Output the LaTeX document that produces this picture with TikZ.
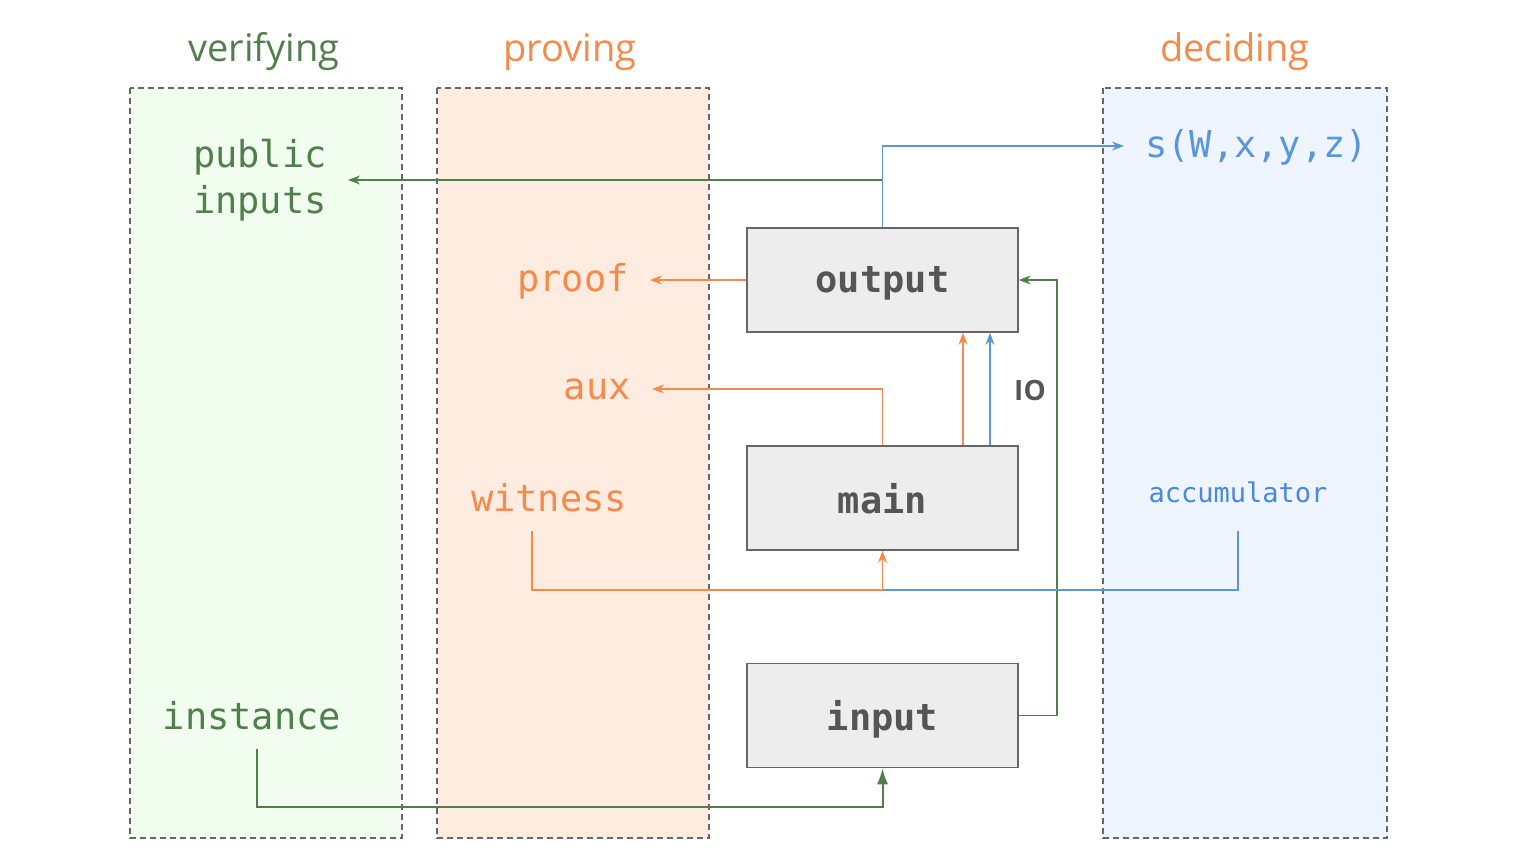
\documentclass[tikz,border=0pt]{standalone}
\usepackage{fontspec}
\setmainfont{Open Sans}
\newfontfamily\codefont{DejaVu Sans Mono}
\usetikzlibrary{arrows.meta}

\definecolor{vgreen}{HTML}{517F4C}
\definecolor{porange}{HTML}{F58A4B}
\definecolor{dblue}{HTML}{5A96D8}
\definecolor{ablue}{HTML}{4A87E0}
\definecolor{vfill}{HTML}{F0FDEF}
\definecolor{pfill}{HTML}{FEECE0}
\definecolor{dfill}{HTML}{EEF5FE}
\definecolor{boxgray}{HTML}{666666}
\definecolor{txtgray}{HTML}{555555}

\begin{document}
\begin{tikzpicture}[x=1pt, y=-1pt,
    region/.style = {draw=boxgray, line width=1.5pt, dash pattern=on 6pt off 4pt},
    heading/.style = {font=\fontsize{38}{44}\selectfont},
    block/.style = {draw=boxgray, fill=black!7, line width=1.5pt, minimum width=271pt,
                    minimum height=104pt, inner sep=0pt, text=txtgray, text depth=0pt,
                    font=\codefont\bfseries\fontsize{37}{44}\selectfont},
    label/.style = {font=\codefont\fontsize{37}{46}\selectfont, inner xsep=21pt, inner ysep=18pt},
    link/.style = {line width=1.5pt, -{Stealth[length=12pt, width=9pt]}}]
    \useasboundingbox (0,0) rectangle (1518,855);

    % regions
    \draw[region, fill=vfill] (130,88) rectangle (402,838);
    \draw[region, fill=pfill] (437,88) rectangle (709,838);
    \draw[region, fill=dfill] (1103,88) rectangle (1387,838);
    \node[heading, text=vgreen] (verifying) at (264,52) {verifying};
    \node[heading, text=porange] (proving) at (570,52) {proving};
    \node[heading, text=porange] (deciding) at (1235,52) {deciding};

    % circuit blocks
    \node[block] (output) at (882.5,280) {output};
    \node[block] (main) at (882.5,498) {main};
    \node[block] (input) at (882.5,715.5) {input};

    % labels
    \node[label, text=vgreen, align=left] (public) at (260,180) {public\\inputs};
    \node[label, text=vgreen] (instance) at (252,716) {instance};
    \node[label, text=porange, anchor=east] (proof) at (650,281) {proof};
    \node[label, text=porange, anchor=east] (aux) at (652,389) {aux};
    \node[label, text=porange] (witness) at (549,498) {witness};
    \node[label, text=dblue, anchor=west] (sfun) at (1124,147) {s(W,x,y,z)};
    \node[label, text=ablue, font=\codefont\fontsize{27}{32}\selectfont, inner ysep=28pt] (accumulator) at (1238,492) {accumulator};
    \node[text=txtgray, font=\bfseries\fontsize{28}{32}\selectfont] (io) at (1030,390) {IO};

    \coordinate (top) at (882.5,146);
    \coordinate (tap) at (882.5,180);
    \coordinate (loop) at (1057,280);
    \coordinate (join) at (882.5,590);
    \coordinate (ibend) at (882.5,807);

    % connectors
    \draw[link, vgreen] (tap) -- (tap -| public.east);
    \draw[link, dblue] (output.north) -- (top) -- (top -| sfun.west);
    \draw[link, porange] (output.west) -- (output.west -| proof.east);
    \draw[link, porange] (main.north) |- (aux.east);
    \draw[link, porange] ([xshift=80.5pt]main.north) -- ([xshift=80.5pt]output.south);
    \draw[link, dblue] ([xshift=107.5pt]main.north) -- ([xshift=107.5pt]output.south);
    \draw[link, vgreen] (input.east) -| (loop) -- (output.east);
    \draw[line width=1.5pt, dblue] (accumulator.south) |- (join);
    \draw[link, porange] ([xshift=-17pt]witness.south) |- (join) -- (main.south);
    \draw[line width=2pt, vgreen, -{Latex[length=16pt, width=11pt]}]
        ([xshift=5pt]instance.south) |- (ibend) -- (input.south);
\end{tikzpicture}
\end{document}
